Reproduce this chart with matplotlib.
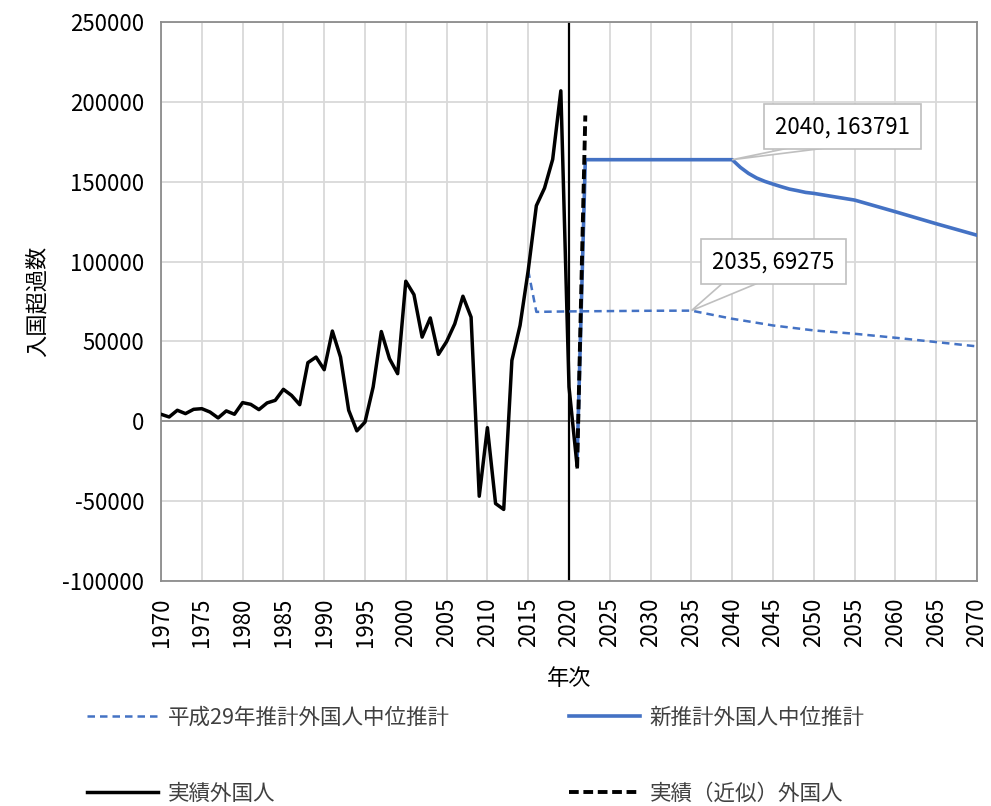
import matplotlib
matplotlib.use("Agg")
import matplotlib.pyplot as plt
from matplotlib.patches import Polygon
from matplotlib.transforms import ScaledTranslation

plt.rcParams['font.family'] = ['Noto Sans CJK JP', 'DejaVu Sans']

# Actual foreign net migration (実績外国人)
actual_years = list(range(1970, 2022))
actual_vals = [4400, 2700, 6900, 4800, 7500, 7900, 5800, 2100, 6500, 4400,
               11700, 10600, 7300, 11500, 13100, 20000, 16200, 10400, 36700, 40200,
               32300, 56500, 40200, 6900, -6000, -500, 21500, 56200, 39200, 29800,
               87700, 79300, 52700, 64700, 41900, 49900, 61000, 78300, 65200, -46900,
               -4000, -51500, -55200, 38100, 60000, 94400, 135000, 146000, 164000, 206900,
               21500, -28500]

# Actual (approx.) foreign (実績（近似）外国人)
approx_years = [2021, 2022]
approx_vals = [-28500, 191500]

# H29 projection (平成29年推計外国人中位推計)
h29_years = [2015, 2016, 2020, 2025, 2030, 2035, 2040, 2045, 2050, 2055, 2060, 2065, 2070]
h29_vals = [94400, 68500, 68800, 69000, 69200, 69275, 64200, 60000, 56900, 54800, 52300, 49600, 46900]

# New projection (新推計外国人中位推計)
new_years = [2021, 2022, 2030, 2040, 2041, 2042, 2043, 2044, 2045, 2046, 2047, 2048,
             2049, 2050, 2052, 2055, 2060, 2065, 2070]
new_vals = [-22500, 163791, 163791, 163791, 159000, 155200, 152300, 150200, 148500, 146900,
            145400, 144400, 143300, 142700, 141000, 138500, 131200, 123700, 116500]

x_ticks = list(range(1970, 2071, 5))
y_ticks = list(range(-100000, 250001, 50000))

blue = '#4472C4'
fs = 16

fig = plt.figure(figsize=(9.91, 8.06), dpi=100)
ax = fig.add_axes([161/991, 1-581/806, (977-161)/991, (581-22)/806])

ax.set_xlim(1970, 2070)
ax.set_ylim(-100000, 250000)
ax.set_xticks(x_ticks)
ax.set_yticks(y_ticks)
ax.set_xticklabels([str(t) for t in x_ticks], rotation=90, fontsize=fs)
ax.set_yticklabels([str(t) for t in y_ticks], fontsize=fs)
ax.tick_params(length=0, pad=12)
ax.grid(True, color='#D9D9D9', linewidth=1.3)
ax.set_axisbelow(True)
for s in ax.spines.values():
    s.set_color('#8C8C8C')
    s.set_linewidth(1.3)
ax.axhline(0, color='#8C8C8C', linewidth=1.3, zorder=1)
ax.axvline(2020, color='black', linewidth=1.6, zorder=2)

l_h29, = ax.plot(h29_years, h29_vals, color=blue, linewidth=1.8, linestyle=(0, (3, 2)), zorder=3)
l_new, = ax.plot(new_years, new_vals, color=blue, linewidth=2.6, zorder=3)
l_act, = ax.plot(actual_years, actual_vals, color='black', linewidth=2.5, zorder=4)
l_apx, = ax.plot(approx_years, approx_vals, color='black', linewidth=2.8, linestyle=(0, (2.5, 1.2)), zorder=5)

ax.set_ylabel('入国超過数', fontsize=fs, labelpad=10)
ax.set_xlabel('年次', fontsize=fs, labelpad=14)


def callout(xv, yv, text, box_off_px, base_px):
    # box_off_px: (dx, dy) of box center from point, in pixels (y up)
    # base_px: two base points of the callout wedge, pixels relative to point (y up)
    trans = fig.dpi_scale_trans + ScaledTranslation(xv, yv, ax.transData)
    verts = [(0, 0), (base_px[0][0] / 100, base_px[0][1] / 100), (base_px[1][0] / 100, base_px[1][1] / 100)]
    poly = Polygon(verts, closed=True, transform=trans, fc='white', ec='#BFBFBF', lw=1.2,
                   zorder=6, clip_on=False)
    ax.add_patch(poly)
    ax.annotate(text, xy=(xv, yv), xytext=(box_off_px[0] * 0.72, box_off_px[1] * 0.72),
                textcoords='offset points', fontsize=fs, ha='center', va='center', zorder=7,
                bbox=dict(boxstyle='square,pad=0.5', fc='white', ec='#BFBFBF', lw=1.2))


callout(2040, 163791, '2040, 163791', (110, 33), [(58, 12), (96, 12)])
callout(2035, 69275, '2035, 69275', (82, 49), [(33, 29), (70, 29)])

legend_items = [
    (l_h29, '平成29年推計外国人中位推計', 87, 718),
    (l_new, '新推計外国人中位推計', 569, 718),
    (l_act, '実績外国人', 87, 794),
    (l_apx, '実績（近似）外国人', 569, 794),
]
for h, lab, px, py in legend_items:
    leg = fig.legend(handles=[h], labels=[lab], loc='center left',
                     bbox_to_anchor=(px/991, 1-py/806), frameon=False, fontsize=15.5,
                     handlelength=3.3, handletextpad=0.45, borderpad=0, borderaxespad=0)
    for t in leg.get_texts():
        t.set_color('#404040')

fig.savefig('out.png', dpi=100)
